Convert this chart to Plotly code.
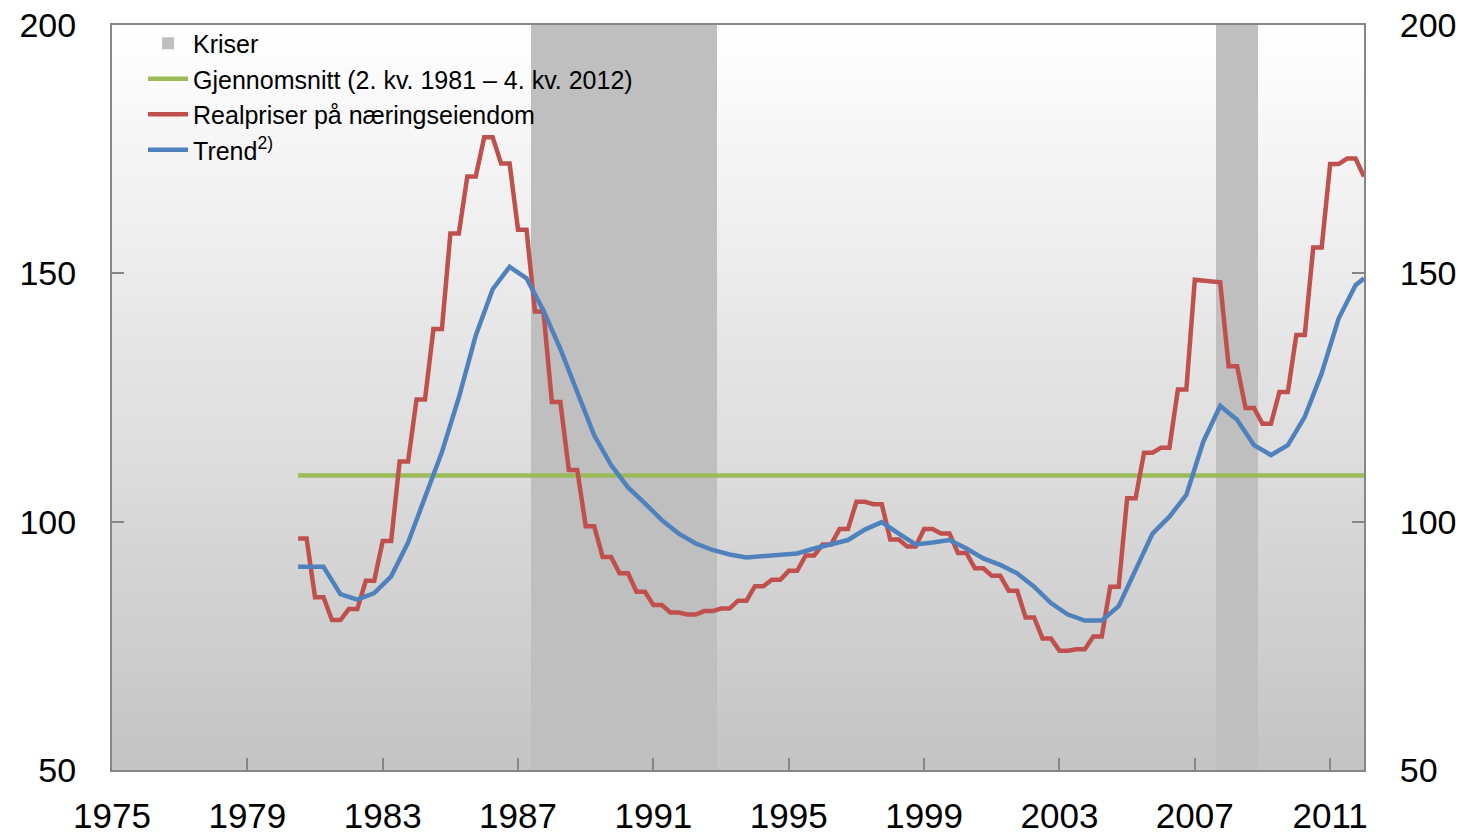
import numpy as np
import pandas as pd
import plotly.graph_objects as go

# quarterly series, 2. kv. 1981 - 4. kv. 2012
quarters = pd.period_range("1981Q2", "2012Q4", freq="Q")

# Realpriser paa naeringseiendom (values change every half year)
real_price = [
    96.6, 96.6, 84.8, 84.8, 80.2, 80.2, 82.4, 82.4, 88.1, 88.1,
    96.1, 96.1, 112.1, 112.1, 124.6, 124.6, 138.8, 138.8, 158.0, 158.0,
    169.5, 169.5, 177.4, 177.4, 172.1, 172.1, 158.8, 158.8, 142.3, 142.3,
    124.1, 124.1, 110.4, 110.4, 99.1, 99.1, 92.9, 92.9, 89.6, 89.6,
    85.9, 85.9, 83.2, 83.2, 81.7, 81.7, 81.3, 81.3, 82.0, 82.0,
    82.5, 82.5, 84.1, 84.1, 87.0, 87.0, 88.3, 88.3, 90.1, 90.1,
    93.2, 93.2, 95.4, 95.4, 98.5, 98.5, 104.0, 104.0, 103.5, 103.5,
    96.4, 96.4, 95.0, 95.0, 98.5, 98.5, 97.6, 97.6, 93.7, 93.7,
    90.6, 90.6, 89.1, 89.1, 86.1, 86.1, 80.7, 80.7, 76.5, 76.5,
    74.0, 74.0, 74.3, 74.3, 76.9, 76.9, 86.9, 86.9, 104.7, 104.7,
    113.9, 113.9, 114.9, 114.9, 126.6, 126.6, 148.7, 148.6, 148.3, 148.2,
    131.3, 131.3, 122.9, 122.9, 119.7, 119.7, 126.1, 126.1, 137.6, 137.6,
    155.2, 155.2, 172.0, 172.0, 173.1, 173.1, 169.5,
]

# trend, read at first quarter and every second quarter after that
trend_idx = [0] + list(range(1, 126, 2)) + [126]
trend = [
    90.9, 90.9, 90.9, 85.4, 84.3, 85.6, 89.0, 95.8, 104.7, 114.0,
    125.0, 137.5, 146.8, 151.3, 149.0, 142.5, 134.8, 126.0, 117.4, 111.4,
    106.9, 103.7, 100.3, 97.6, 95.6, 94.3, 93.4, 92.8, 93.1, 93.4,
    93.6, 94.6, 95.4, 96.3, 98.4, 99.9, 97.6, 95.4, 95.8, 96.3,
    94.6, 92.6, 91.3, 89.6, 86.9, 83.6, 81.3, 80.1, 80.1, 83.0,
    90.3, 97.6, 101.0, 105.4, 116.1, 123.3, 120.5, 115.4, 113.4, 115.4,
    121.1, 129.9, 140.9, 147.6, 149.0,
]

average = 109.3

crisis_start = ["1988Q2", "2008Q3"]
crisis_end = ["1993Q3", "2009Q3"]

x_ticks = list(range(1975, 2012, 4))
y_ticks = [50, 100, 150, 200]

assert len(real_price) == len(quarters)
assert len(trend) == len(trend_idx)

# position of each quarter on the year axis of the chart
t = 1980.5 + 0.25 * np.arange(len(quarters))

RED = "#c0504d"
BLUE = "#4f81bd"
GREEN = "#9bbb59"
CRISIS = "#bfbfbf"
AXIS = "#868686"
FONT = "Liberation Sans, Arial, sans-serif"

fig = go.Figure()

# crisis periods as bars covering whole quarters
cx, cw = [], []
for s, e in zip(crisis_start, crisis_end):
    i0 = quarters.get_loc(pd.Period(s, freq="Q"))
    i1 = quarters.get_loc(pd.Period(e, freq="Q"))
    left, right = t[i0] - 0.125, t[i1] + 0.125
    cx.append((left + right) / 2)
    cw.append(right - left)
fig.add_trace(go.Bar(x=cx, y=[y_ticks[-1] - y_ticks[0]] * len(cx), base=y_ticks[0],
                     width=cw, marker=dict(color=CRISIS, line=dict(width=0)),
                     name="Kriser"))

fig.add_trace(go.Scatter(x=t, y=[average] * len(t), mode="lines",
                         line=dict(color=GREEN, width=4.5),
                         name="Gjennomsnitt (2. kv. 1981 \u2013 4. kv. 2012)"))
fig.add_trace(go.Scatter(x=t, y=real_price, mode="lines",
                         line=dict(color=RED, width=4.5),
                         name="Realpriser p\u00e5 n\u00e6ringseiendom"))
fig.add_trace(go.Scatter(x=t[trend_idx], y=trend, mode="lines",
                         line=dict(color=BLUE, width=4.5),
                         name="Trend<sup>2)</sup>", yaxis="y2"))

# white-to-grey gradient behind the plot area
shapes = []
n = 90
for k in range(n):
    c = int(round(196 + (255 - 196) * (k + 0.5) / n))
    shapes.append(dict(type="rect", xref="paper", yref="paper",
                       x0=0, x1=1, y0=k / n, y1=(k + 1) / n + 0.002,
                       fillcolor=f"rgb({c},{c},{c})", line=dict(width=0),
                       layer="below"))

yax = dict(range=[y_ticks[0], y_ticks[-1]], tickvals=y_ticks, ticks="inside",
           ticklen=12, tickwidth=2, tickcolor=AXIS, showline=True,
           linecolor=AXIS, linewidth=2, showgrid=False, zeroline=False,
           tickfont=dict(size=34, color="black"), ticklabelstandoff=27,
           ticklabeloverflow="allow")

fig.update_layout(
    width=1468, height=838,
    margin=dict(l=112, r=104, t=25, b=68, autoexpand=False),
    paper_bgcolor="white", plot_bgcolor="rgba(0,0,0,0)",
    font=dict(family=FONT, color="black"),
    shapes=shapes,
    bargap=0,
    showlegend=True,
    legend=dict(x=0.0248, y=1.006, xanchor="left", yanchor="top",
                bgcolor="rgba(0,0,0,0)", font=dict(size=25),
                traceorder="normal", tracegroupgap=0, itemwidth=40),
    xaxis=dict(range=[1975, 2012], tickvals=x_ticks, ticks="inside",
               ticklen=12, tickwidth=2, tickcolor=AXIS, showline=True,
               mirror=True, linecolor=AXIS, linewidth=2, showgrid=False,
               zeroline=False, tickfont=dict(size=35, color="black"),
               ticklabelstandoff=14, ticklabeloverflow="allow"),
    yaxis=yax,
    yaxis2=dict(yax, overlaying="y", side="right", anchor="x"),
)

# drop the default page margin so the figure fills the window
fig.write_html("out.html", config={"displayModeBar": False},
               post_script="document.body.style.margin = '0';")
